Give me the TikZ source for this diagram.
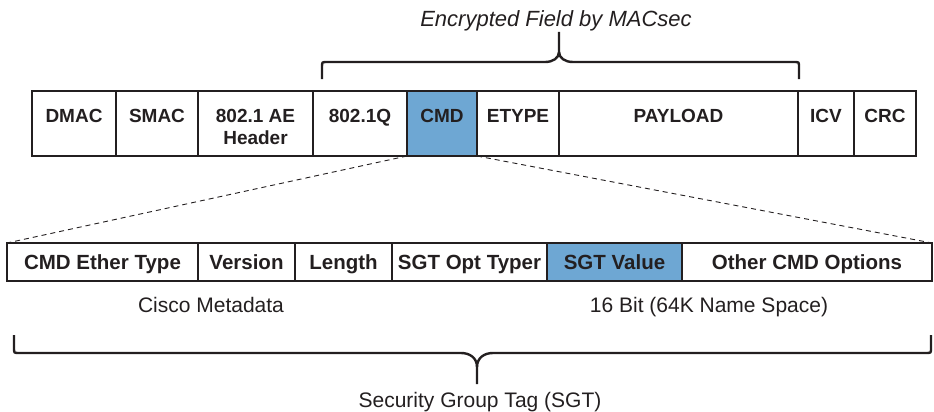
\documentclass[tikz,border=0pt]{standalone}
\usepackage{fontspec}
\setmainfont{Liberation Sans}
\usetikzlibrary{positioning}
\definecolor{cmdblue}{RGB}{110,167,211}
\definecolor{ink}{RGB}{35,31,32}

\begin{document}
\begin{tikzpicture}[x=1pt,y=-1pt,
  field/.style={draw=ink,line width=1.3pt,outer sep=0pt,inner sep=0pt,text=ink,font=\fontsize{19}{22}\selectfont\bfseries,align=center,text height=31pt,text depth=34pt},
  tagfield/.style={draw=ink,line width=1.3pt,outer sep=0pt,inner sep=0pt,text=ink,font=\fontsize{20.5}{24}\selectfont\bfseries,minimum height=38pt,text height=15pt,text depth=0pt},
  brace/.style={draw=ink,line width=2.4pt},
  note/.style={text=ink,font=\fontsize{21}{24}\selectfont,inner sep=0pt,anchor=base}]
\useasboundingbox (0,0) rectangle (934,412);
% MACsec frame
\node[field,minimum width=84pt,anchor=north west] (dmac) at (32,91) {DMAC};
\node[field,minimum width=82pt,right=0pt of dmac] (smac) {SMAC};
\node[field,minimum width=115pt,text height=53pt,text depth=12pt,right=0pt of smac] (aehdr) {802.1 AE\\Header};
\node[field,minimum width=94pt,right=0pt of aehdr] (dotq) {802.1Q};
\node[field,minimum width=70pt,fill=cmdblue,right=0pt of dotq] (cmd) {CMD};
\node[field,minimum width=82pt,right=0pt of cmd] (etype) {ETYPE};
\node[field,minimum width=239pt,right=0pt of etype] (payload) {PAYLOAD};
\node[field,minimum width=56pt,right=0pt of payload] (icv) {ICV};
\node[field,minimum width=62pt,right=0pt of icv] (crc) {CRC};
% CMD fields
\node[tagfield,minimum width=191pt,anchor=north west] (ethtype) at (7,243) {CMD Ether Type};
\node[tagfield,minimum width=97pt,right=0pt of ethtype] (version) {Version};
\node[tagfield,minimum width=97pt,right=0pt of version] (length) {Length};
\node[tagfield,minimum width=155pt,right=0pt of length] (opttype) {SGT Opt Typer};
\node[tagfield,minimum width=135pt,fill=cmdblue,right=0pt of opttype] (sgtval) {SGT Value};
\node[tagfield,minimum width=250pt,right=0pt of sgtval] (other) {Other CMD Options};
\draw[ink,line width=0.9pt,dash pattern=on 5pt off 4pt] (cmd.south west) -- (ethtype.north west);
\draw[ink,line width=0.9pt,dash pattern=on 5pt off 4pt] (cmd.south east) -- (other.north east);
% braces
\coordinate (encL) at (322,79);
\coordinate (encR) at (799,79);
\coordinate (encTip) at (559,32);
\draw[brace] (encL) -- ++(0,-12) .. controls ++(0,-5) .. ++(5,-5) -- (545,62) .. controls (553,62) and (559,58) .. (559,52) -- (encTip);
\draw[brace] (encR) -- ++(0,-12) .. controls ++(0,-5) .. ++(-5,-5) -- (573,62) .. controls (565,62) and (559,58) .. (559,52);
\coordinate (sgtL) at (14,335);
\coordinate (sgtR) at (931,335);
\coordinate (sgtTip) at (477,384);
\draw[brace] (sgtL) -- ++(0,13) .. controls ++(0,5) .. ++(5,5) -- (461,353) .. controls (470,353) and (477,358) .. (477,367) -- (sgtTip);
\draw[brace] (sgtR) -- ++(0,13) .. controls ++(0,5) .. ++(-5,5) -- (493,353) .. controls (484,353) and (477,358) .. (477,367);
% labels
\node[note,font=\fontsize{22}{24}\selectfont\itshape] (enc) at (556,27) {Encrypted Field by MACsec};
\node[note] (meta) at (211,312) {Cisco Metadata};
\node[note] (bits) at (709,312) {16 Bit (64K Name Space)};
\node[note] (sgt) at (480,407) {Security Group Tag (SGT)};
\end{tikzpicture}
\end{document}
